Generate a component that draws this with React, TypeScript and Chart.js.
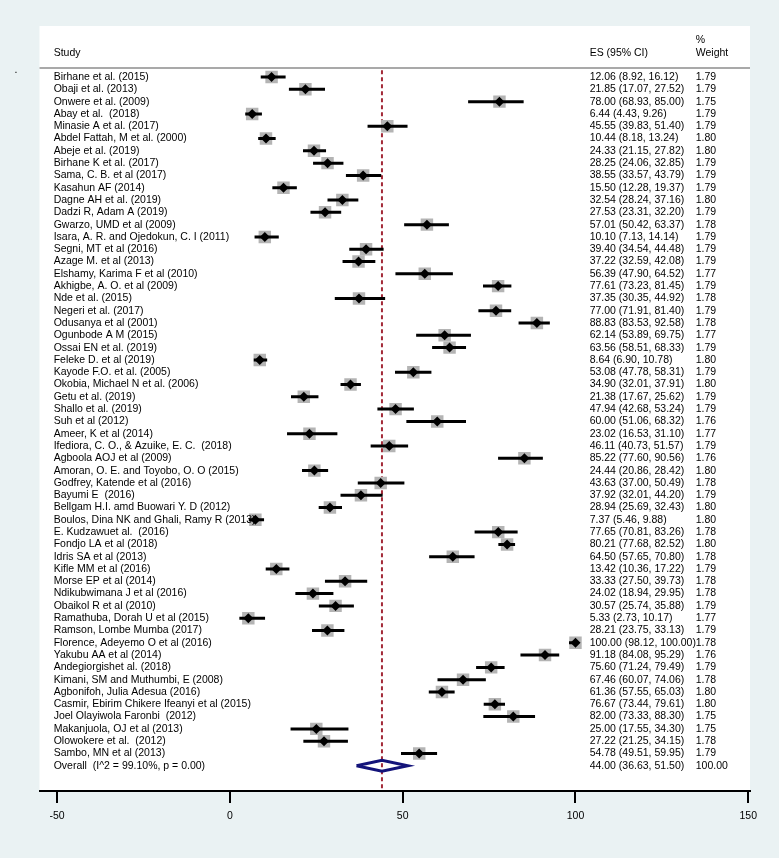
import React, { useEffect, useRef } from "react";
import { Chart, registerables } from "chart.js";
Chart.register(...registerables);

const studies = [
  "Birhane et al. (2015)",
  "Obaji et al. (2013)",
  "Onwere et al. (2009)",
  "Abay et al.  (2018)",
  "Minasie A et al. (2017)",
  "Abdel Fattah, M et al. (2000)",
  "Abeje et al. (2019)",
  "Birhane K et al. (2017)",
  "Sama, C. B. et al (2017)",
  "Kasahun AF (2014)",
  "Dagne AH et al. (2019)",
  "Dadzi R, Adam A (2019)",
  "Gwarzo, UMD et al (2009)",
  "Isara, A. R. and Ojedokun, C. I (2011)",
  "Segni, MT et al (2016)",
  "Azage M. et al (2013)",
  "Elshamy, Karima F et al (2010)",
  "Akhigbe, A. O. et al (2009)",
  "Nde et al. (2015)",
  "Negeri et al. (2017)",
  "Odusanya et al (2001)",
  "Ogunbode A M (2015)",
  "Ossai EN et al. (2019)",
  "Feleke D. et al (2019)",
  "Kayode F.O. et al. (2005)",
  "Okobia, Michael N et al. (2006)",
  "Getu et al. (2019)",
  "Shallo et al. (2019)",
  "Suh et al (2012)",
  "Ameer, K et al (2014)",
  "Ifediora, C. O., & Azuike, E. C.  (2018)",
  "Agboola AOJ et al (2009)",
  "Amoran, O. E. and Toyobo, O. O (2015)",
  "Godfrey, Katende et al (2016)",
  "Bayumi E  (2016)",
  "Bellgam H.I. amd Buowari Y. D (2012)",
  "Boulos, Dina NK and Ghali, Ramy R (2013)",
  "E. Kudzawuet al.  (2016)",
  "Fondjo LA et al (2018)",
  "Idris SA et al (2013)",
  "Kifle MM et al (2016)",
  "Morse EP et al (2014)",
  "Ndikubwimana J et al (2016)",
  "Obaikol R et al (2010)",
  "Ramathuba, Dorah U et al (2015)",
  "Ramson, Lombe Mumba (2017)",
  "Florence, Adeyemo O et al (2016)",
  "Yakubu AA et al (2014)",
  "Andegiorgishet al. (2018)",
  "Kimani, SM and Muthumbi, E (2008)",
  "Agbonifoh, Julia Adesua (2016)",
  "Casmir, Ebirim Chikere Ifeanyi et al (2015)",
  "Joel Olayiwola Faronbi  (2012)",
  "Makanjuola, OJ et al (2013)",
  "Olowokere et al.  (2012)",
  "Sambo, MN et al (2013)",
];

const es = [
  12.06, 21.85, 78.0, 6.44, 45.55, 10.44, 24.33, 28.25, 38.55, 15.5, 32.54, 27.53, 57.01, 10.1,
  39.4, 37.22, 56.39, 77.61, 37.35, 77.0, 88.83, 62.14, 63.56, 8.64, 53.08, 34.9, 21.38, 47.94,
  60.0, 23.02, 46.11, 85.22, 24.44, 43.63, 37.92, 28.94, 7.37, 77.65, 80.21, 64.5, 13.42, 33.33,
  24.02, 30.57, 5.33, 28.21, 100.0, 91.18, 75.6, 67.46, 61.36, 76.67, 82.0, 25.0, 27.22, 54.78,
];

const lower = [
  8.92, 17.07, 68.93, 4.43, 39.83, 8.18, 21.15, 24.06, 33.57, 12.28, 28.24, 23.31, 50.42, 7.13,
  34.54, 32.59, 47.9, 73.23, 30.35, 71.91, 83.53, 53.89, 58.51, 6.9, 47.78, 32.01, 17.67, 42.68,
  51.06, 16.53, 40.73, 77.6, 20.86, 37.0, 32.01, 25.69, 5.46, 70.81, 77.68, 57.65, 10.36, 27.5,
  18.94, 25.74, 2.73, 23.75, 98.12, 84.08, 71.24, 60.07, 57.55, 73.44, 73.33, 17.55, 21.25, 49.51,
];

const upper = [
  16.12, 27.52, 85.0, 9.26, 51.4, 13.24, 27.82, 32.85, 43.79, 19.37, 37.16, 32.2, 63.37, 14.14,
  44.48, 42.08, 64.52, 81.45, 44.92, 81.4, 92.58, 69.75, 68.33, 10.78, 58.31, 37.91, 25.62, 53.24,
  68.32, 31.1, 51.57, 90.56, 28.42, 50.49, 44.2, 32.43, 9.88, 83.26, 82.52, 70.8, 17.22, 39.73,
  29.95, 35.88, 10.17, 33.13, 100.0, 95.29, 79.49, 74.06, 65.03, 79.61, 88.3, 34.3, 34.15, 59.95,
];

const weights = [
  "1.79", "1.79", "1.75", "1.79", "1.79", "1.80", "1.80", "1.79", "1.79", "1.79", "1.80", "1.79",
  "1.78", "1.79", "1.79", "1.79", "1.77", "1.79", "1.78", "1.79", "1.78", "1.77", "1.79", "1.80",
  "1.79", "1.80", "1.79", "1.79", "1.76", "1.77", "1.79", "1.76", "1.80", "1.78", "1.79", "1.80",
  "1.80", "1.78", "1.80", "1.78", "1.79", "1.78", "1.78", "1.79", "1.77", "1.79", "1.78", "1.76",
  "1.79", "1.78", "1.80", "1.80", "1.75", "1.75", "1.78", "1.79",
];

const overallLabel = "Overall  (I^2 = 99.10%, p = 0.00)";
const overallES = 44.0;
const overallLower = 36.63;
const overallUpper = 51.5;
const overallWeight = "100.00";

const xTicks = [-50, 0, 50, 100, 150];
const headers = { study: "Study", es: "ES (95% CI)", pct: "%", weight: "Weight" };

const BG = "rgb(234,242,243)";
const FONT = "10.5px 'Liberation Sans', Arial, sans-serif";
const COL_STUDY = -51;
const COL_ES = 104.1;
const COL_W = 134.8;

const fmt = (v: number) => v.toFixed(2);

const forestPlugin = {
  id: "forest",
  beforeDraw(chart: any) {
    const { ctx, chartArea: a, width, height } = chart;
    ctx.save();
    ctx.fillStyle = BG;
    ctx.fillRect(0, 0, width, height);
    ctx.fillStyle = "#ffffff";
    ctx.fillRect(a.left, a.top, a.right - a.left, a.bottom - a.top);
    ctx.restore();
  },
  beforeDatasetsDraw(chart: any) {
    const { ctx, chartArea: a, scales } = chart;
    const xs = scales.x;
    const ys = scales.y;
    ctx.save();
    // header separator
    const yl = ys.getPixelForValue(-0.73);
    ctx.strokeStyle = "#a9a9a9";
    ctx.lineWidth = 2;
    ctx.beginPath();
    ctx.moveTo(a.left, yl);
    ctx.lineTo(a.right, yl);
    ctx.stroke();
    // overall effect line
    const xo = xs.getPixelForValue(overallES);
    ctx.strokeStyle = "#a32a38";
    ctx.lineWidth = 2;
    ctx.setLineDash([4, 3]);
    ctx.beginPath();
    ctx.moveTo(xo, ys.getPixelForValue(-0.55));
    ctx.lineTo(xo, a.bottom);
    ctx.stroke();
    ctx.restore();
  },
  afterDatasetsDraw(chart: any) {
    const { ctx, scales, chartArea: a } = chart;
    const xs = scales.x;
    const ys = scales.y;
    ctx.save();
    ctx.font = FONT;
    ctx.fillStyle = "#000";
    ctx.textBaseline = "middle";
    ctx.textAlign = "left";
    const xS = xs.getPixelForValue(COL_STUDY);
    const xE = xs.getPixelForValue(COL_ES);
    const xW = xs.getPixelForValue(COL_W);
    const yh = ys.getPixelForValue(-1.95);
    ctx.fillText(headers.study, xS, yh);
    ctx.fillText(headers.es, xE, yh);
    ctx.fillText(headers.weight, xW, yh);
    ctx.fillText(headers.pct, xW, ys.getPixelForValue(-3.0));
    studies.forEach((s, i) => {
      const y = ys.getPixelForValue(i);
      ctx.fillText(s, xS, y);
      ctx.fillText(`${fmt(es[i])} (${fmt(lower[i])}, ${fmt(upper[i])})`, xE, y);
      ctx.fillText(weights[i], xW, y);
    });
    const yo = ys.getPixelForValue(studies.length);
    ctx.fillText(overallLabel, xS, yo);
    ctx.fillText(`${fmt(overallES)} (${fmt(overallLower)}, ${fmt(overallUpper)})`, xE, yo);
    ctx.fillText(overallWeight, xW, yo);
    ctx.fillText(".", a.left - 25, ys.getPixelForValue(-0.6));
    ctx.restore();
  },
};

export default function App() {
  const ref = useRef<HTMLCanvasElement>(null);
  useEffect(() => {
    document.body.style.margin = "0";
    const n = studies.length;
    const ciData: any[] = [];
    studies.forEach((_, i) => {
      ciData.push({ x: lower[i], y: i }, { x: upper[i], y: i }, { x: NaN, y: NaN });
    });
    const pts = studies.map((_, i) => ({ x: es[i], y: i }));
    const dh = 0.45;
    const diamond = [
      { x: overallLower, y: n },
      { x: overallES, y: n - dh },
      { x: overallUpper, y: n },
      { x: overallES, y: n + dh },
      { x: overallLower, y: n },
    ];
    Chart.defaults.font.family = "'Liberation Sans', Arial, sans-serif";
    const chart = new Chart(ref.current!, {
      type: "scatter",
      data: {
        datasets: [
          {
            type: "scatter",
            data: pts,
            pointStyle: "rectRot",
            pointRadius: 5,
            backgroundColor: "#000",
            borderWidth: 0,
          } as any,
          {
            type: "line",
            data: ciData,
            borderColor: "#000",
            borderWidth: 3,
            pointRadius: 0,
            spanGaps: false,
            fill: false,
            borderCapStyle: "butt",
          } as any,
          {
            type: "scatter",
            data: pts,
            pointStyle: "rect",
            pointRadius: 8.8,
            backgroundColor: "#b4b4b4",
            borderWidth: 0,
          } as any,
          {
            type: "line",
            data: diamond,
            borderColor: "#14147a",
            borderWidth: 3,
            pointRadius: 0,
            fill: false,
            tension: 0,
            borderJoinStyle: "miter",
          } as any,
        ],
      },
      options: {
        responsive: false,
        animation: false,
        events: [],
        layout: { padding: { left: 39.5, right: 29, top: 26, bottom: 0 } },
        plugins: { legend: { display: false }, tooltip: { enabled: false } },
        scales: {
          x: {
            type: "linear",
            position: "bottom",
            min: -55.1,
            max: 150.5,
            afterBuildTicks: (s: any) => {
              s.ticks = xTicks.map((v) => ({ value: v }));
            },
            afterFit: (s: any) => {
              s.height = 67;
            },
            grid: {
              drawOnChartArea: false,
              drawTicks: true,
              tickLength: 12,
              color: "#000",
              lineWidth: 2,
            },
            border: { display: true, color: "#000", width: 2 },
            ticks: {
              color: "#000",
              font: { size: 10.5 },
              padding: 7,
              maxRotation: 0,
              autoSkip: false,
              callback: (v: any) => String(v),
            },
          },
          y: {
            type: "linear",
            display: false,
            reverse: true,
            min: -4.15,
            max: 58.05,
          },
        },
      },
      plugins: [forestPlugin],
    });
    return () => chart.destroy();
  }, []);
  return (
    <div style={{ width: 779, height: 858 }}>
      <canvas ref={ref} width={779} height={858} style={{ display: "block" }} />
    </div>
  );
}
